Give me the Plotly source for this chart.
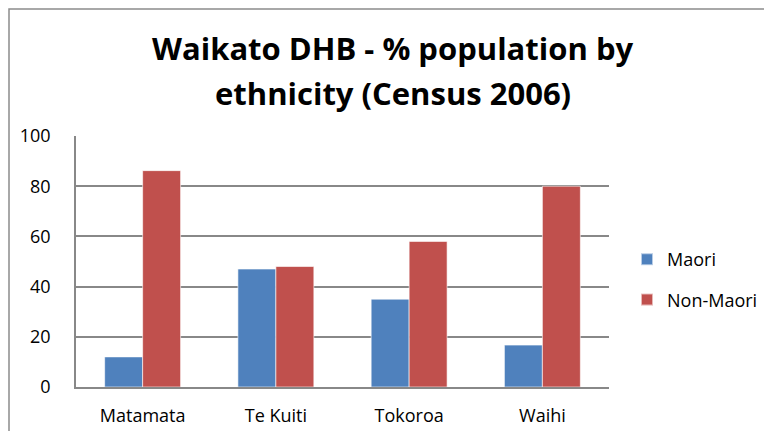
import plotly.graph_objects as go

categories = ["Matamata", "Te Kuiti", "Tokoroa", "Waihi"]
maori = [12, 47, 35, 16.7]
non_maori = [86.2, 48, 58, 80]
series_names = ["Maori", "Non-Maori"]
y_ticks = [0, 20, 40, 60, 80, 100]

W, H = 764, 431
L, R, T, B = 76, 609, 136, 387
FONT = "Open Sans, Calibri, Carlito, sans-serif"

fig = go.Figure()
fig.add_bar(x=categories, y=maori, name=series_names[0], legendgroup="a",
            marker=dict(color="#4F81BD", line=dict(color="rgba(255,255,255,0.6)", width=1)))
fig.add_bar(x=categories, y=non_maori, name=series_names[1], legendgroup="b",
            marker=dict(color="#C0504D", line=dict(color="rgba(255,255,255,0.6)", width=1)))

def px(x):
    return (x - L) / (R - L)

def py(y):
    return (B - y) / (B - T)

fig.update_layout(
    width=W, height=H,
    margin=dict(l=L, r=W - R, t=T, b=H - B, pad=0, autoexpand=False),
    paper_bgcolor="white", plot_bgcolor="white",
    barmode="group", bargap=0.43, bargroupgap=0,
    font=dict(family=FONT, size=17, color="#000000"),
    showlegend=True,
    legend=dict(x=px(627), y=py(241), xanchor="left", yanchor="top",
                font=dict(size=18, color="#000000"), tracegroupgap=14,
                itemsizing="constant", itemwidth=30, bgcolor="rgba(0,0,0,0)"),
    yaxis=dict(range=[0, 100], tickvals=y_ticks, showgrid=True, gridcolor="#888888", gridwidth=1.5,
               showline=True, linecolor="#888888", linewidth=1.5, ticks="",
               ticklabelstandoff=20, zeroline=False, automargin=False,
               tickfont=dict(size=18, color="#000000")),
    xaxis=dict(showline=True, linecolor="#888888", linewidth=1.5, ticks="", automargin=False,
               tickfont=dict(size=18, color="#000000"), ticklabelstandoff=12),
    annotations=[
        dict(text="<b>Waikato DHB - % population by</b>", x=px(393), y=py(48), xref="paper", yref="paper",
             xanchor="center", yanchor="middle", showarrow=False,
             font=dict(family=FONT, size=31, color="#000000")),
        dict(text="<b>ethnicity (Census 2006)</b>", x=px(393), y=py(93), xref="paper", yref="paper",
             xanchor="center", yanchor="middle", showarrow=False,
             font=dict(family=FONT, size=31, color="#000000")),
    ],
    shapes=[
        dict(type="rect", xref="paper", yref="paper",
             x0=px(9), x1=px(800), y0=py(9), y1=py(480),
             line=dict(color="#8C8C8C", width=1.5), fillcolor="rgba(0,0,0,0)", layer="below"),
    ],
)

fig.write_html("out.html", config={"displayModeBar": False},
               post_script="document.body.style.margin='0';")
